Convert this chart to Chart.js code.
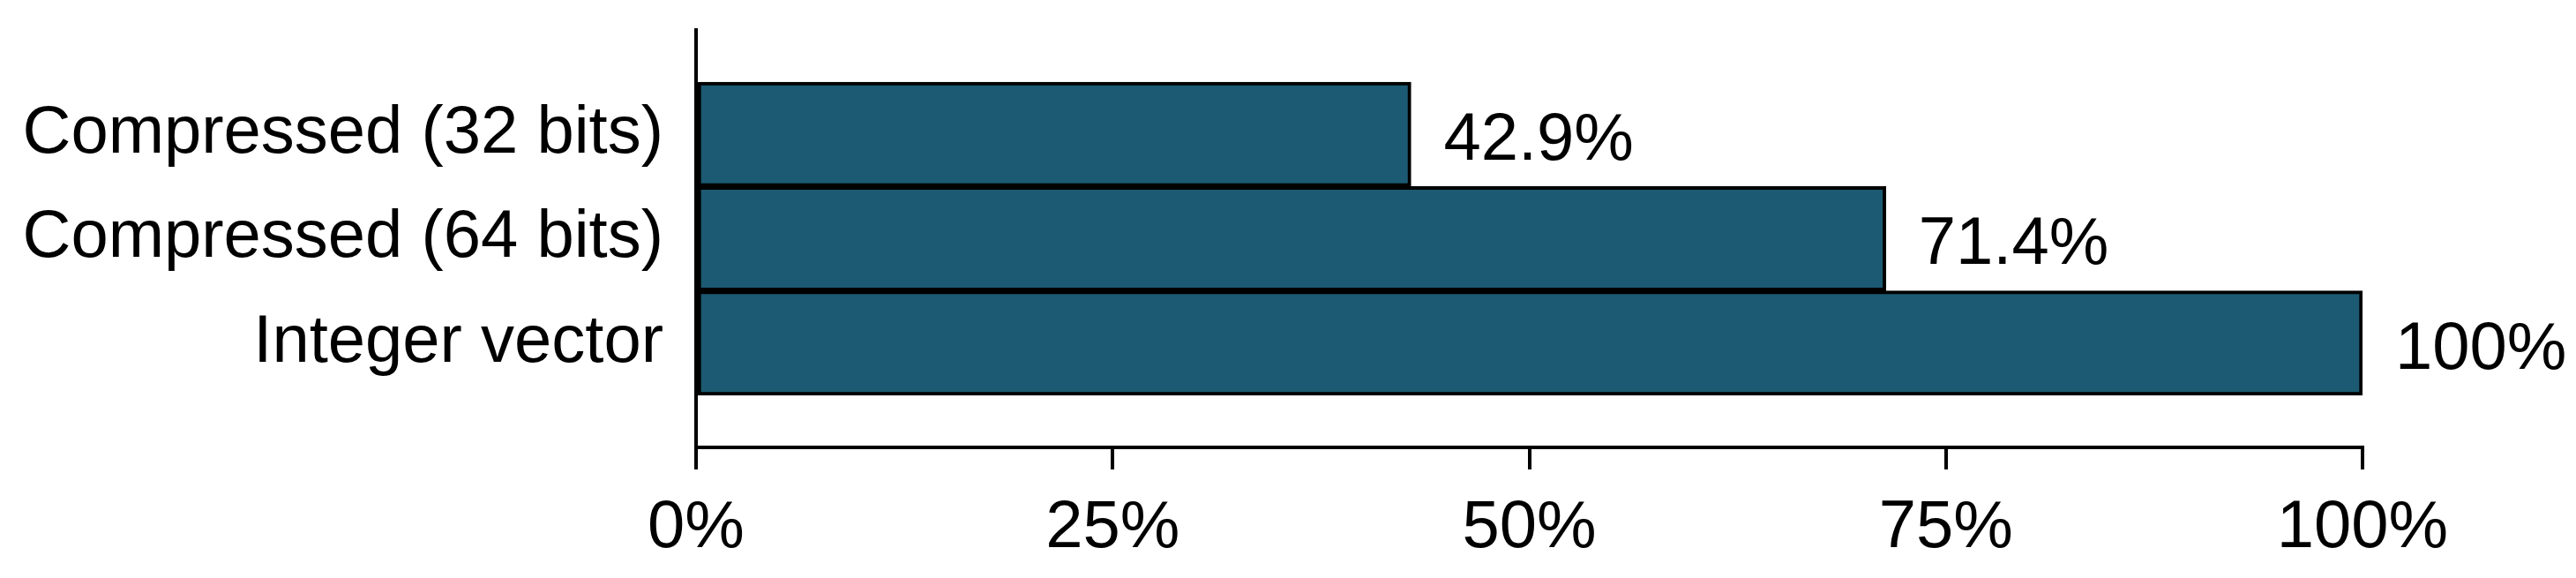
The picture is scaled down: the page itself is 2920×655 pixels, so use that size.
<!DOCTYPE html>
<html lang="en">
<head>
    <meta charset="UTF-8">
    <title>Integer vector compression</title>
    <script src="https://cdn.jsdelivr.net/npm/chart.js"></script>
    <style>
        html, body { margin: 0; padding: 0; background: #fff; }
        #wrap { width: 2920px; height: 655px; }
    </style>
</head>
<body>
    <div id="wrap"><canvas id="barChart" width="2920" height="655"></canvas></div>

    <script>
        // data
        const categories = ["Compressed (32 bits)", "Compressed (64 bits)", "Integer vector"];
        const sizes = [42.9, 71.4, 100];
        const xTicks = [0, 25, 50, 75, 100];

        // half an empty slot above and below the bars
        const labels = [""].concat(categories, [""]);
        const values = [null].concat(sizes, [null]);

        const FONT = "'Liberation Sans', Arial, sans-serif";

        const valueLabels = {
            id: "valueLabels",
            afterDatasetsDraw(chart) {
                const ctx = chart.ctx;
                const meta = chart.getDatasetMeta(0);
                ctx.save();
                ctx.font = "76px " + FONT;
                ctx.fillStyle = "#000";
                ctx.textAlign = "left";
                ctx.textBaseline = "middle";
                meta.data.forEach((bar, i) => {
                    const v = values[i];
                    if (v === null) return;
                    ctx.fillText(v + "%", bar.x + 37, bar.y + 8);
                });
                ctx.restore();
            }
        };

        new Chart(document.getElementById("barChart").getContext("2d"), {
            type: "bar",
            data: {
                labels: labels,
                datasets: [{
                    data: values,
                    backgroundColor: "#1b5a72",
                    borderColor: "#000",
                    borderWidth: 4,
                    borderSkipped: false,
                    barPercentage: 1,
                    categoryPercentage: 1
                }]
            },
            options: {
                indexAxis: "y",
                responsive: false,
                animation: false,
                layout: { padding: { top: 34, right: 242, left: 0, bottom: 0 } },
                plugins: { legend: { display: false }, tooltip: { enabled: false } },
                scales: {
                    x: {
                        min: 0,
                        max: 100,
                        afterBuildTicks: s => { s.ticks = xTicks.map(v => ({ value: v })); },
                        afterFit: s => { s.height = 148; s.paddingLeft = 0; s.paddingRight = 0; },
                        border: { color: "#000", width: 4 },
                        grid: { drawOnChartArea: false, color: "#000", lineWidth: 4, tickLength: 25 },
                        ticks: {
                            color: "#000",
                            padding: 21,
                            maxRotation: 0,
                            font: { family: FONT, size: 76 },
                            callback: v => v + "%"
                        }
                    },
                    y: {
                        offset: false,
                        afterFit: s => { s.width = 789; s.paddingTop = 0; s.paddingBottom = 0; },
                        border: { color: "#000", width: 4 },
                        grid: { drawOnChartArea: false, drawTicks: false },
                        ticks: {
                            color: "#000",
                            padding: 37,
                            autoSkip: false,
                            font: { family: FONT, size: 76 }
                        }
                    }
                }
            },
            plugins: [valueLabels]
        });
    </script>
</body>
</html>
